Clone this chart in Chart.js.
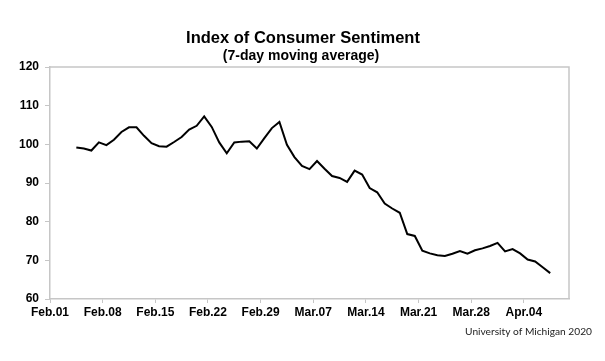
<!DOCTYPE html>
<html>
<head>
<meta charset="utf-8">
<script src="https://cdn.jsdelivr.net/npm/chart.js@4/dist/chart.umd.min.js"></script>
<style>
  html, body { margin: 0; padding: 0; background: #fff; }
  #wrap { width: 605px; height: 361px; position: relative; }
</style>
</head>
<body>
<div id="wrap"><canvas id="sentimentChart"></canvas></div>
<script>
// daily dates of the 7-day moving average
const dates = [
    'Feb.04', 'Feb.05', 'Feb.06', 'Feb.07', 'Feb.08', 'Feb.09', 'Feb.10', 'Feb.11', 'Feb.12', 'Feb.13',
    'Feb.14', 'Feb.15', 'Feb.16', 'Feb.17', 'Feb.18', 'Feb.19', 'Feb.20', 'Feb.21', 'Feb.22', 'Feb.23',
    'Feb.24', 'Feb.25', 'Feb.26', 'Feb.27', 'Feb.28', 'Feb.29', 'Mar.01', 'Mar.02', 'Mar.03', 'Mar.04',
    'Mar.05', 'Mar.06', 'Mar.07', 'Mar.08', 'Mar.09', 'Mar.10', 'Mar.11', 'Mar.12', 'Mar.13', 'Mar.14',
    'Mar.15', 'Mar.16', 'Mar.17', 'Mar.18', 'Mar.19', 'Mar.20', 'Mar.21', 'Mar.22', 'Mar.23', 'Mar.24',
    'Mar.25', 'Mar.26', 'Mar.27', 'Mar.28', 'Mar.29', 'Mar.30', 'Mar.31', 'Apr.01', 'Apr.02', 'Apr.03',
    'Apr.04', 'Apr.05', 'Apr.06', 'Apr.07'
];
const sentiment = [
    99.2, 98.9, 98.4, 100.5, 99.8, 101.2, 103.2, 104.4, 104.4, 102.2,
    100.3, 99.5, 99.4, 100.6, 101.9, 103.8, 104.8, 107.2, 104.5, 100.5,
    97.7, 100.5, 100.7, 100.8, 98.9, 101.6, 104.2, 105.8, 99.9, 96.7,
    94.4, 93.6, 95.7, 93.7, 91.8, 91.3, 90.3, 93.2, 92.2, 88.7,
    87.6, 84.7, 83.4, 82.3, 76.8, 76.3, 72.5, 71.8, 71.3, 71.1,
    71.7, 72.4, 71.7, 72.6, 73.1, 73.7, 74.5, 72.3, 72.9, 71.8,
    70.2, 69.7, 68.2, 66.7
];
const tickLabels = ['Feb.01', 'Feb.08', 'Feb.15', 'Feb.22', 'Feb.29', 'Mar.07', 'Mar.14', 'Mar.21', 'Mar.28', 'Apr.04'];
const yTicks = [60, 70, 80, 90, 100, 110, 120];

// day number counted from Feb.01 (2020 has Feb.29)
const monthStart = { Feb: 0, Mar: 29, Apr: 60 };
function dayIndex(label) {
    const parts = label.split('.');
    return monthStart[parts[0]] + parseInt(parts[1], 10) - 1;
}
const totalDays = 69; // Feb.01 .. Apr.09

const points = dates.map((d, i) => ({ x: dayIndex(d) + 0.5, y: sentiment[i] }));

const axisGrey = '#c6c6c6';
const boldFont = { family: '"Liberation Sans", Arial, sans-serif', size: 12, weight: 'bold' };

// grey frame on top and right, plus the heading and source note
const framePlugin = {
    id: 'frame',
    beforeDatasetsDraw(chart) {
        const { ctx, chartArea } = chart;
        ctx.save();
        ctx.strokeStyle = axisGrey;
        ctx.lineWidth = 1.5;
        ctx.beginPath();
        ctx.moveTo(chartArea.left, chartArea.top);
        ctx.lineTo(chartArea.right, chartArea.top);
        ctx.lineTo(chartArea.right, chartArea.bottom);
        ctx.stroke();
        ctx.restore();
    },
    afterDraw(chart) {
        const ctx = chart.ctx;
        ctx.save();
        ctx.fillStyle = '#000';
        ctx.textAlign = 'center';
        ctx.textBaseline = 'alphabetic';
        ctx.font = 'bold 16.5px "Liberation Sans", Arial, sans-serif';
        ctx.fillText('Index of Consumer Sentiment', 303, 43);
        ctx.font = 'bold 14px "Liberation Sans", Arial, sans-serif';
        ctx.fillText('(7-day moving average)', 301, 60);
        ctx.textAlign = 'right';
        ctx.font = '10.2px Lato, sans-serif';
        ctx.fillStyle = '#222';
        ctx.fillText('University of Michigan 2020', 592, 335);
        ctx.restore();
    }
};

const chart = new Chart(document.getElementById('sentimentChart'), {
    type: 'line',
    data: {
        datasets: [{
            label: 'Index of Consumer Sentiment',
            data: points,
            borderColor: '#000',
            borderWidth: 2,
            pointRadius: 0,
            tension: 0,
            fill: false
        }]
    },
    options: {
        responsive: true,
        maintainAspectRatio: false,
        animation: false,
        layout: { padding: { top: 67, right: 36, left: 0, bottom: 0 } },
        plugins: {
            legend: { display: false },
            tooltip: { enabled: false }
        },
        scales: {
            x: {
                type: 'linear',
                min: 0,
                max: totalDays,
                afterFit: s => { s.height = 62; },
                border: { color: axisGrey, width: 1.5 },
                grid: { drawOnChartArea: false, tickLength: 4, color: axisGrey },
                ticks: {
                    stepSize: 7,
                    includeBounds: false,
                    autoSkip: false,
                    maxRotation: 0,
                    padding: 2,
                    color: '#000',
                    font: boldFont,
                    callback: v => tickLabels[v / 7] || ''
                }
            },
            y: {
                min: yTicks[0],
                max: yTicks[yTicks.length - 1],
                afterFit: s => { s.width = 50; },
                border: { color: axisGrey, width: 1.5 },
                grid: { drawOnChartArea: false, tickLength: 5, color: axisGrey },
                ticks: {
                    stepSize: 10,
                    padding: 6,
                    color: '#000',
                    font: boldFont
                }
            }
        }
    },
    plugins: [framePlugin]
});
</script>
</body>
</html>
